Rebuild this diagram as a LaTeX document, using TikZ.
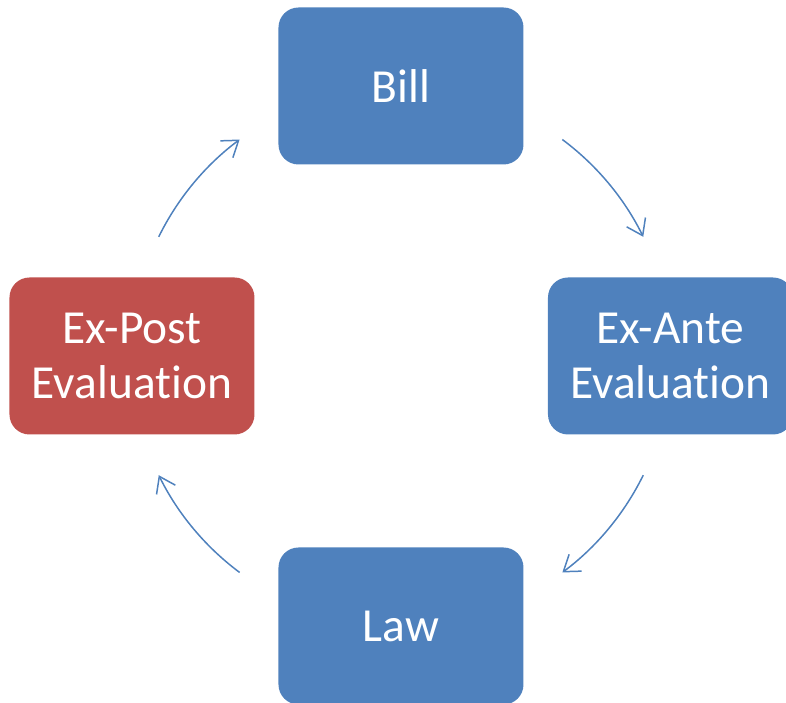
\documentclass[tikz,border=0pt]{standalone}
\usepackage{fontspec}
\setmainfont[Ligatures=NoCommon]{Carlito}
\usetikzlibrary{arrows.meta}
\definecolor{stageblue}{HTML}{4F81BD}
\definecolor{stagered}{HTML}{C0504D}
\tikzset{
  stage/.style={rectangle,rounded corners=0.4cm,fill=stageblue,text=white,
    minimum width=4.9cm,minimum height=3.14cm,align=center,
    font=\fontsize{27}{31}\selectfont},
  cycle/.style={draw=stageblue,line width=0.85pt,-{Straight Barb[length=0.3cm,width=0.42cm,line width=0.85pt]}}
}
\begin{document}
\begin{tikzpicture}
\useasboundingbox (-8.02,-6.94) rectangle (7.70,7.12);
\node[stage] (Bill) at (0,5.4) {Bill};
\node[stage] (ExAnte) at (5.39,0) {Ex-Ante\\Evaluation};
\node[stage] (Law) at (0,-5.4) {Law};
\node[stage,fill=stagered] (ExPost) at (-5.38,0) {Ex-Post\\Evaluation};
\coordinate (BillOut) at (53.3:5.4);
\coordinate (AnteOut) at (-26.2:5.4);
\coordinate (LawOut) at (-126.7:5.4);
\coordinate (PostOut) at (153.8:5.4);
\draw[cycle] (BillOut) arc[start angle=53.3,end angle=26.2,radius=5.4];
\draw[cycle] (AnteOut) arc[start angle=-26.2,end angle=-53.3,radius=5.4];
\draw[cycle] (LawOut) arc[start angle=-126.7,end angle=-153.8,radius=5.4];
\draw[cycle] (PostOut) arc[start angle=153.8,end angle=126.7,radius=5.4];
\end{tikzpicture}
\end{document}
